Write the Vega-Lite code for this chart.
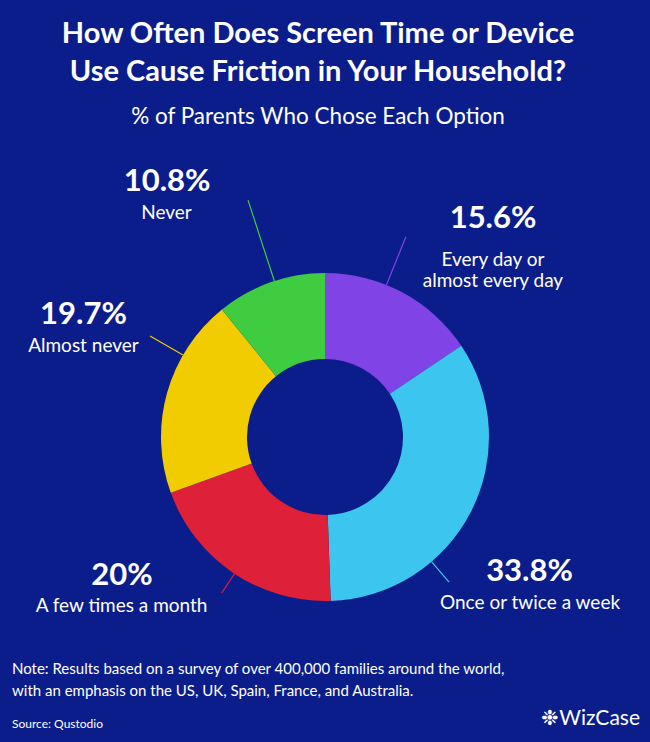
{
  "$schema": "https://vega.github.io/schema/vega-lite/v6.json",
  "background": "#0b1d8b",
  "padding": {"top": 20, "left": 0, "right": 0, "bottom": 0},
  "spacing": 0,
  "bounds": "flush",
  "config": {"view": {"stroke": null}, "font": "Lato", "concat": {"spacing": 0}},
  "title": {
    "text": ["How Often Does Screen Time or Device", "Use Cause Friction in Your Household?"],
    "subtitle": "% of Parents Who Chose Each Option",
    "anchor": "middle", "frame": "group", "dx": -7,
    "font": "Lato", "fontSize": 29, "fontWeight": "bold", "color": "white", "lineHeight": 38,
    "subtitleFont": "Lato", "subtitleFontSize": 22.5, "subtitleColor": "white", "subtitlePadding": 19,
    "offset": 36.5
  },
  "vconcat": [
    {
      "width": 650,
      "height": 544,
      "title": {
        "text": ["Note: Results based on a survey of over 400,000 families around the world,", "with an emphasis on the US, UK, Spain, France, and Australia."],
        "subtitle": "Source: Qustodio",
        "orient": "bottom", "anchor": "start", "frame": "group", "offset": -47, "dx": 12,
        "font": "Lato", "fontSize": 15, "fontWeight": "normal", "lineHeight": 22, "color": "white",
        "subtitleFont": "Lato", "subtitleFontSize": 12, "subtitleColor": "white", "subtitlePadding": 20
      },
      "data": {"values": [
        {"rank": 1, "option": "Every day or\nalmost every day", "pct": 15.6},
        {"rank": 2, "option": "Once or twice a week", "pct": 33.8},
        {"rank": 3, "option": "A few times a month", "pct": 20},
        {"rank": 4, "option": "Almost never", "pct": 19.7},
        {"rank": 5, "option": "Never", "pct": 10.8}
      ]},
      "transform": [
        {"window": [{"op": "sum", "field": "pct", "as": "cum"}], "sort": [{"field": "rank"}], "frame": [null, 0]},
        {"calculate": "datum.cum - datum.pct", "as": "cum0"},
        {"calculate": "datum.cum - datum.pct / 2", "as": "mid"},
        {"calculate": "datum.pct + '%'", "as": "pctLabel"}
      ],
      "encoding": {
        "color": {
          "field": "option", "type": "nominal", "legend": null,
          "scale": {
            "domain": ["Every day or\nalmost every day", "Once or twice a week", "A few times a month", "Almost never", "Never"],
            "range": ["#8043e6", "#3cc5ee", "#de2039", "#f0cc00", "#3fcc40"]
          }
        }
      },
      "layer": [
        {
          "mark": {"type": "arc", "outerRadius": 164, "innerRadius": 78},
          "encoding": {
            "theta": {"field": "cum0", "type": "quantitative", "stack": null, "scale": {"domain": [0, 99.9]}},
            "theta2": {"field": "cum"}
          }
        },
        {
          "transform": [{"filter": "datum.rank == 1"}],
          "layer": [
            {"mark": {"type": "arc", "filled": false, "strokeWidth": 1.2, "outerRadius": 216, "innerRadius": 164, "thetaOffset": -0.1066, "theta2Offset": -0.1066},
             "encoding": {"theta": {"field": "mid", "type": "quantitative", "stack": null}, "theta2": {"field": "mid"}}},
            {"mark": {"type": "text", "radius": 275.6, "thetaOffset": 0.165, "fontSize": 31, "fontWeight": "bold", "baseline": "middle"},
             "encoding": {"theta": {"field": "mid", "type": "quantitative", "stack": null}, "text": {"field": "pctLabel"}, "color": {"value": "white"}}},
            {"mark": {"type": "text", "radius": 244, "thetaOffset": 0.2686, "fontSize": 19, "lineHeight": 21, "lineBreak": "\n", "baseline": "middle"},
             "encoding": {"theta": {"field": "mid", "type": "quantitative", "stack": null}, "text": {"field": "option"}, "color": {"value": "white"}}}
          ]
        },
        {
          "transform": [{"filter": "datum.rank == 2"}],
          "layer": [
            {"mark": {"type": "arc", "filled": false, "strokeWidth": 1.2, "outerRadius": 191, "innerRadius": 164, "thetaOffset": 0.3906, "theta2Offset": 0.3906},
             "encoding": {"theta": {"field": "mid", "type": "quantitative", "stack": null}, "theta2": {"field": "mid"}}},
            {"mark": {"type": "text", "radius": 245, "thetaOffset": 0.110, "fontSize": 31, "fontWeight": "bold", "baseline": "middle"},
             "encoding": {"theta": {"field": "mid", "type": "quantitative", "stack": null}, "text": {"field": "pctLabel"}, "color": {"value": "white"}}},
            {"mark": {"type": "text", "radius": 263.8, "thetaOffset": 0.2073, "fontSize": 19, "baseline": "middle"},
             "encoding": {"theta": {"field": "mid", "type": "quantitative", "stack": null}, "text": {"field": "option"}, "color": {"value": "white"}}}
          ]
        },
        {
          "transform": [{"filter": "datum.rank == 3"}],
          "layer": [
            {"mark": {"type": "arc", "filled": false, "strokeWidth": 1.2, "outerRadius": 187, "innerRadius": 164, "thetaOffset": -0.0096, "theta2Offset": -0.0096},
             "encoding": {"theta": {"field": "mid", "type": "quantitative", "stack": null}, "theta2": {"field": "mid"}}},
            {"mark": {"type": "text", "radius": 246, "thetaOffset": 0.376, "fontSize": 31, "fontWeight": "bold", "baseline": "middle"},
             "encoding": {"theta": {"field": "mid", "type": "quantitative", "stack": null}, "text": {"field": "pctLabel"}, "color": {"value": "white"}}},
            {"mark": {"type": "text", "radius": 264.8, "thetaOffset": 0.2819, "fontSize": 19, "baseline": "middle"},
             "encoding": {"theta": {"field": "mid", "type": "quantitative", "stack": null}, "text": {"field": "option"}, "color": {"value": "white"}}}
          ]
        },
        {
          "transform": [{"filter": "datum.rank == 4"}],
          "layer": [
            {"mark": {"type": "arc", "filled": false, "strokeWidth": 1.2, "outerRadius": 202, "innerRadius": 164, "thetaOffset": 0.2515, "theta2Offset": 0.2515},
             "encoding": {"theta": {"field": "mid", "type": "quantitative", "stack": null}, "theta2": {"field": "mid"}}},
            {"mark": {"type": "text", "radius": 270.8, "thetaOffset": 0.197, "fontSize": 31, "fontWeight": "bold", "baseline": "middle"},
             "encoding": {"theta": {"field": "mid", "type": "quantitative", "stack": null}, "text": {"field": "pctLabel"}, "color": {"value": "white"}}},
            {"mark": {"type": "text", "radius": 258.3, "thetaOffset": 0.090, "fontSize": 19, "baseline": "middle"},
             "encoding": {"theta": {"field": "mid", "type": "quantitative", "stack": null}, "text": {"field": "option"}, "color": {"value": "white"}}}
          ]
        },
        {
          "transform": [{"filter": "datum.rank == 5"}],
          "layer": [
            {"mark": {"type": "arc", "filled": false, "strokeWidth": 1.2, "outerRadius": 249, "innerRadius": 164, "thetaOffset": 0.0255, "theta2Offset": 0.0255},
             "encoding": {"theta": {"field": "mid", "type": "quantitative", "stack": null}, "theta2": {"field": "mid"}}},
            {"mark": {"type": "text", "radius": 299.6, "thetaOffset": -0.2154, "fontSize": 31, "fontWeight": "bold", "baseline": "middle"},
             "encoding": {"theta": {"field": "mid", "type": "quantitative", "stack": null}, "text": {"field": "pctLabel"}, "color": {"value": "white"}}},
            {"mark": {"type": "text", "radius": 274.4, "thetaOffset": -0.2765, "fontSize": 19, "baseline": "middle"},
             "encoding": {"theta": {"field": "mid", "type": "quantitative", "stack": null}, "text": {"field": "option"}, "color": {"value": "white"}}}
          ]
        }
      ]
    },
    {
      "width": 650,
      "height": 33,
      "title": {"text": "❉WizCase", "orient": "bottom", "anchor": "end", "frame": "group", "offset": -34, "dx": -10, "font": "Lato", "fontSize": 21, "fontWeight": "normal", "color": "white"},
      "data": {"values": [{"brand": ""}]},
      "mark": {"type": "text"},
      "encoding": {"text": {"field": "brand"}}
    }
  ]
}
